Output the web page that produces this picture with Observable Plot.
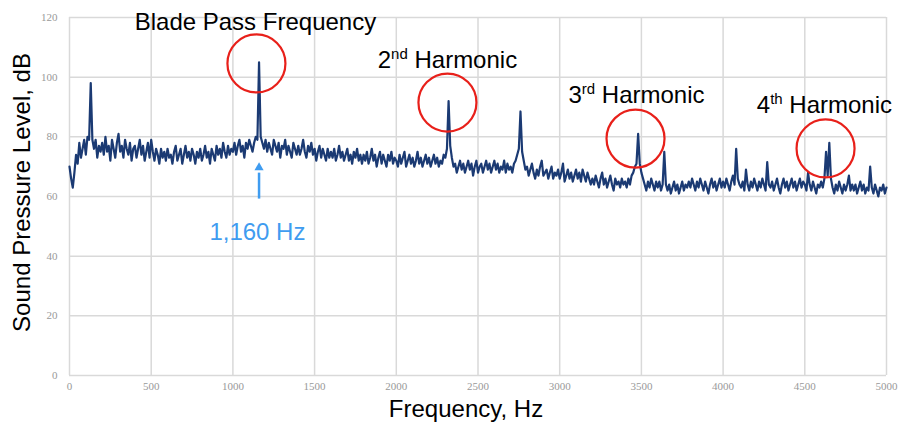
<!DOCTYPE html>
<html><head><meta charset="utf-8">
<script src="https://cdn.jsdelivr.net/npm/d3@7"></script>
<script src="https://cdn.jsdelivr.net/npm/@observablehq/plot@0.6"></script>
<style>
body{margin:0;background:#fff}
#chart svg{display:block}
[aria-label$="tick label"] text{font-family:'Liberation Serif','Times New Roman',serif;font-size:11px;fill:#999}
</style>
</head><body><div id="chart"></div>
<script>
// Frequency spectrum, one value every 10 Hz from 0 to 5000 Hz (dB)
const freqStep = 10;
const splLevels = [
  70, 66, 63, 68, 74, 71, 78, 73, 76, 79, 74, 80, 79, 98, 79, 76, 79, 73, 77, 75,
  78, 74, 80, 75, 77, 72, 79, 76, 73, 78, 81, 75, 77, 73, 79, 76, 74, 78, 72, 76,
  77, 73, 76, 79, 74, 77, 72, 75, 78, 73, 79, 75, 72, 76, 74, 71, 76, 73, 75, 72,
  76, 73, 74, 71, 75, 77, 72, 74, 76, 71, 74, 77, 73, 75, 72, 76, 74, 71, 75, 73,
  76, 72, 74, 77, 73, 75, 71, 76, 74, 72, 77, 74, 76, 73, 78, 75, 73, 77, 74, 76,
  75, 78, 74, 77, 79, 75, 77, 73, 78, 76, 79, 77, 75, 78, 80, 79, 105, 80, 78, 76,
  79, 75, 78, 76, 74, 79, 77, 75, 78, 73, 77, 76, 79, 74, 77, 75, 73, 78, 76, 74,
  77, 74, 76, 79, 75, 73, 77, 75, 78, 74, 76, 72, 75, 77, 73, 76, 74, 72, 76, 73,
  75, 73, 76, 72, 74, 77, 73, 75, 72, 74, 76, 72, 74, 71, 75, 73, 76, 72, 74, 71,
  74, 72, 75, 71, 73, 76, 72, 74, 70, 73, 75, 71, 74, 72, 70, 74, 72, 75, 71, 73,
  72, 70, 74, 71, 73, 75, 70, 72, 74, 71, 73, 70, 72, 75, 71, 73, 70, 72, 74, 71,
  73, 70, 72, 74, 71, 73, 70, 72, 71, 74, 73, 76, 92, 77, 73, 70, 71, 68, 70, 72,
  69, 71, 68, 70, 72, 69, 71, 67, 70, 72, 68, 70, 71, 68, 70, 72, 69, 71, 68, 70,
  72, 69, 71, 68, 70, 69, 72, 68, 71, 69, 70, 68, 71, 72, 74, 76, 88.5, 75, 72, 69,
  70, 67, 69, 71, 68, 66, 69, 67, 70, 72, 67, 68, 69, 66, 68, 70, 66, 68, 67, 69,
  66, 68, 71, 65, 67, 69, 66, 68, 65, 67, 69, 66, 68, 65, 69, 67, 65, 68, 66, 64,
  66, 64, 67, 65, 63, 66, 68, 64, 66, 63, 65, 67, 64, 62, 66, 64, 65, 63, 66, 64,
  65, 63, 66, 64, 67, 68, 70, 71, 81, 71, 68, 66, 64, 62, 65, 63, 66, 64, 62, 65,
  63, 65, 62, 64, 75, 64, 62, 64, 61, 63, 65, 62, 64, 61, 63, 65, 62, 64, 63, 65,
  63, 66, 64, 62, 65, 63, 66, 64, 62, 65, 63, 61, 64, 66, 63, 65, 62, 64, 66, 63,
  65, 63, 66, 64, 62, 65, 67, 64, 76, 66, 64, 63, 65, 62, 69, 64, 62, 65, 63, 66,
  64, 62, 65, 63, 66, 64, 62, 71.5, 64, 63, 65, 62, 64, 66, 63, 61, 64, 66, 63, 65,
  62, 64, 66, 63, 65, 62, 64, 66, 63, 65, 64, 62, 68, 64, 62, 65, 63, 61, 64, 63,
  65, 63, 66, 75, 67, 78, 66, 63, 61, 64, 62, 65, 63, 61, 64, 62, 64, 67, 62, 64,
  62, 64, 61, 63, 65, 62, 64, 61, 63, 62, 70, 63, 61, 64, 62, 60, 63, 62, 64, 61,
  63
];
const xTicks = [0, 500, 1000, 1500, 2000, 2500, 3000, 3500, 4000, 4500, 5000];
const yTicks = [0, 20, 40, 60, 80, 100, 120];
const xTitle = "Frequency, Hz";
const yTitle = "Sound Pressure Level, dB";

// Annotations (data coordinates: Hz, dB)
const harmonicLabels = ["Blade Pass Frequency", "2nd Harmonic", "3rd Harmonic", "4th Harmonic"];
const labelFreqs = [1138, 2313, 3470, 4620];
const labelLevels = [118.3, 105.6, 93.9, 90.5];
const circleFreqs = [1144, 2313, 3464, 4627];
const circleLevels = [104.6, 91.5, 79.4, 76.1];
const bpfText = "1,160 Hz";
const bpfFreq = 1160;
const arrowFrom = 59.3, arrowTo = 68.0, arrowTip = 69.7, bpfTextLevel = 47.9, bpfTextFreq = 1150;

const spectrum = splLevels.map((v, i) => ({f: i * freqStep, db: v}));
const labels = harmonicLabels.map((t, i) => ({t, f: labelFreqs[i], db: labelLevels[i]}));
const circles = circleFreqs.map((f, i) => ({f, db: circleLevels[i]}));

const chart = Plot.plot({
  width: 899, height: 423,
  marginLeft: 69, marginRight: 13, marginTop: 17, marginBottom: 48,
  style: {fontFamily: "'Liberation Sans', Arial, sans-serif", background: "#fff", overflow: "visible"},
  x: {domain: [0, 5000]},
  y: {domain: [0, 120]},
  marks: [
    Plot.gridX(xTicks, {stroke: "#d9d9d9", strokeOpacity: 1, strokeWidth: 1.5}),
    Plot.gridY(yTicks, {stroke: "#d9d9d9", strokeOpacity: 1, strokeWidth: 1.5}),
    Plot.axisX(xTicks, {tickSize: 0, tickPadding: 7, label: null, tickFormat: d => String(d)}),
    Plot.axisY(yTicks, {tickSize: 0, tickPadding: 12, label: null, tickFormat: d => String(d)}),
    Plot.line(spectrum, {x: "f", y: "db", stroke: "#1b3a73", strokeWidth: 2.2, strokeLinejoin: "round"}),
    Plot.dot(circles, {x: "f", y: "db", r: 29, stroke: "#e8201a", strokeWidth: 2.2, fill: "none"}),
    Plot.text(labels, {x: "f", y: "db", text: "t", fontSize: 24, fill: "#000"}),
    Plot.link([bpfFreq], {x1: d => d, x2: d => d, y1: arrowFrom, y2: arrowTo, stroke: "#3f9cf0", strokeWidth: 2.5}),
    Plot.dot([bpfFreq], {x: d => d, y: arrowTip, symbol: "triangle", r: 3.4, fill: "#3f9cf0", stroke: "none"}),
    Plot.text([bpfText], {x: bpfTextFreq, y: bpfTextLevel, text: d => d, fontSize: 24, fill: "#3f9cf0"}),
    Plot.text([xTitle], {frameAnchor: "bottom", textAnchor: "middle", dx: -12, dy: 41, text: d => d, fontSize: 24, fill: "#000"}),
    Plot.text([yTitle], {frameAnchor: "left", textAnchor: "middle", rotate: -90, dx: -47, dy: -4, text: d => d, fontSize: 24, fill: "#000"})
  ]
});

// superscript ordinals (2nd, 3rd, 4th)
chart.querySelectorAll("text").forEach(el => {
  const m = /^(\d)(st|nd|rd|th)( .*)$/.exec(el.textContent);
  if (!m) return;
  const ns = "http://www.w3.org/2000/svg";
  el.textContent = "";
  const a = document.createElementNS(ns, "tspan"); a.textContent = m[1];
  const b = document.createElementNS(ns, "tspan"); b.textContent = m[2];
  b.setAttribute("dy", "-9"); b.setAttribute("font-size", "15");
  const c = document.createElementNS(ns, "tspan"); c.textContent = m[3];
  c.setAttribute("dy", "9");
  el.append(a, b, c);
});

document.getElementById("chart").append(chart);
</script>
</body></html>
